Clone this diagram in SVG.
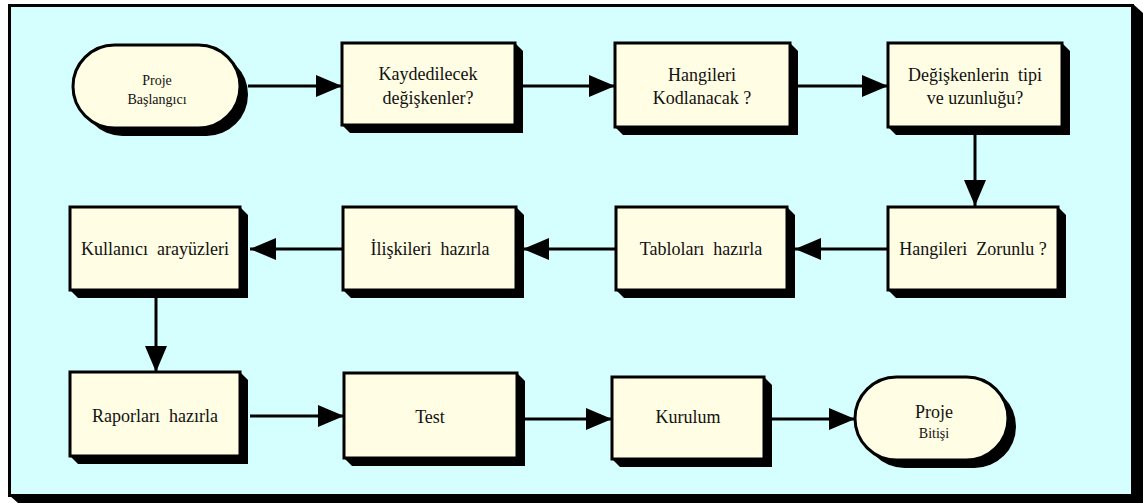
<svg xmlns="http://www.w3.org/2000/svg" width="1143" height="503" viewBox="0 0 1143 503">
<defs>
<style>
.box{fill:#fffde3;stroke:#000;stroke-width:3}
.sh{fill:#000}
.t{font-family:'Liberation Serif','Times New Roman',serif;font-size:18px;fill:#111;text-anchor:middle}
.s{font-family:'Liberation Serif','Times New Roman',serif;font-size:14px;fill:#111;text-anchor:middle}
.c{stroke:#000;stroke-width:3;fill:none;marker-end:url(#ah)}
</style>
<marker id="ah" viewBox="0 0 26 22" markerWidth="26" markerHeight="22" refX="26" refY="11" orient="auto" markerUnits="userSpaceOnUse">
<path d="M0,0 L26,11 L0,22 z" fill="#000"/>
</marker>
</defs>
<rect width="1143" height="503" fill="#ffffff"/>
<polygon points="1133,4 1143,13 1143,503 18,503 9,495" fill="#000"/>
<rect x="9.5" y="5.5" width="1123" height="490" fill="#d5ffff" stroke="#000" stroke-width="3"/>

<g id="connectors">
<line class="c" x1="248" y1="86" x2="342" y2="86"/>
<line class="c" x1="522" y1="86" x2="615" y2="86"/>
<line class="c" x1="798" y1="86" x2="888" y2="86"/>
<line class="c" x1="975" y1="135" x2="975" y2="206"/>
<line class="c" x1="888" y1="249" x2="795" y2="249"/>
<line class="c" x1="616" y1="249" x2="523" y2="249"/>
<line class="c" x1="343" y1="249" x2="250" y2="249"/>
<line class="c" x1="156" y1="298" x2="156" y2="372"/>
<line class="c" x1="250" y1="416" x2="344" y2="416"/>
<line class="c" x1="524" y1="419" x2="612" y2="419"/>
<line class="c" x1="772" y1="419" x2="855" y2="419"/>
</g>

<g id="start">
<rect class="sh" x="81" y="53" width="167" height="83" rx="41.5"/>
<rect class="box" x="73" y="45" width="167" height="83" rx="41.5"/>
<text class="s" x="157" y="85">Proje</text>
<text class="s" x="157" y="104">Başlangıcı</text>
</g>

<g id="kaydedilecek">
<polygon class="sh" points="515,43 523,51 523,133 350,133 342,125"/>
<rect class="box" x="342" y="43" width="173" height="82"/>
<text class="t" x="428" y="80">Kaydedilecek</text>
<text class="t" x="428" y="104">değişkenler?</text>
</g>

<g id="kodlanacak">
<polygon class="sh" points="790,43 798,51 798,135 623,135 615,127"/>
<rect class="box" x="615" y="43" width="175" height="84"/>
<text class="t" x="702" y="81">Hangileri</text>
<text class="t" x="702" y="104">Kodlanacak ?</text>
</g>

<g id="tip">
<polygon class="sh" points="1062,43 1070,51 1070,135 896,135 888,127"/>
<rect class="box" x="888" y="43" width="174" height="84"/>
<text class="t" x="975" y="81" xml:space="preserve">Değişkenlerin  tipi</text>
<text class="t" x="975" y="104">ve uzunluğu?</text>
</g>

<g id="zorunlu">
<polygon class="sh" points="1058,207 1066,215 1066,298 896,298 888,290"/>
<rect class="box" x="888" y="207" width="170" height="83"/>
<text class="t" x="973" y="255" xml:space="preserve">Hangileri  Zorunlu ?</text>
</g>

<g id="tablolar">
<polygon class="sh" points="787,207 795,215 795,298 624,298 616,290"/>
<rect class="box" x="616" y="207" width="171" height="83"/>
<text class="t" x="701" y="255" xml:space="preserve">Tabloları  hazırla</text>
</g>

<g id="iliskiler">
<polygon class="sh" points="516,207 524,215 524,298 351,298 343,290"/>
<rect class="box" x="343" y="207" width="173" height="83"/>
<text class="t" x="430" y="255" xml:space="preserve">İlişkileri  hazırla</text>
</g>

<g id="arayuz">
<polygon class="sh" points="240,207 248,215 248,298 78,298 70,290"/>
<rect class="box" x="70" y="207" width="170" height="83"/>
<text class="t" x="155" y="255" xml:space="preserve">Kullanıcı  arayüzleri</text>
</g>

<g id="raporlar">
<polygon class="sh" points="240,372 248,380 248,464 78,464 70,456"/>
<rect class="box" x="70" y="372" width="170" height="84"/>
<text class="t" x="155" y="422" xml:space="preserve">Raporları  hazırla</text>
</g>

<g id="test">
<polygon class="sh" points="517,373 525,381 525,466 352,466 344,458"/>
<rect class="box" x="344" y="373" width="173" height="85"/>
<text class="t" x="430" y="423">Test</text>
</g>

<g id="kurulum">
<polygon class="sh" points="764,377 772,385 772,467 620,467 612,459"/>
<rect class="box" x="612" y="377" width="152" height="82"/>
<text class="t" x="688" y="423">Kurulum</text>
</g>

<g id="bitis">
<rect class="sh" x="863" y="385" width="153" height="83" rx="41.5"/>
<rect class="box" x="855" y="377" width="153" height="83" rx="41.5"/>
<text class="t" x="934" y="418">Proje</text>
<text class="s" x="934" y="438">Bitişi</text>
</g>
</svg>
